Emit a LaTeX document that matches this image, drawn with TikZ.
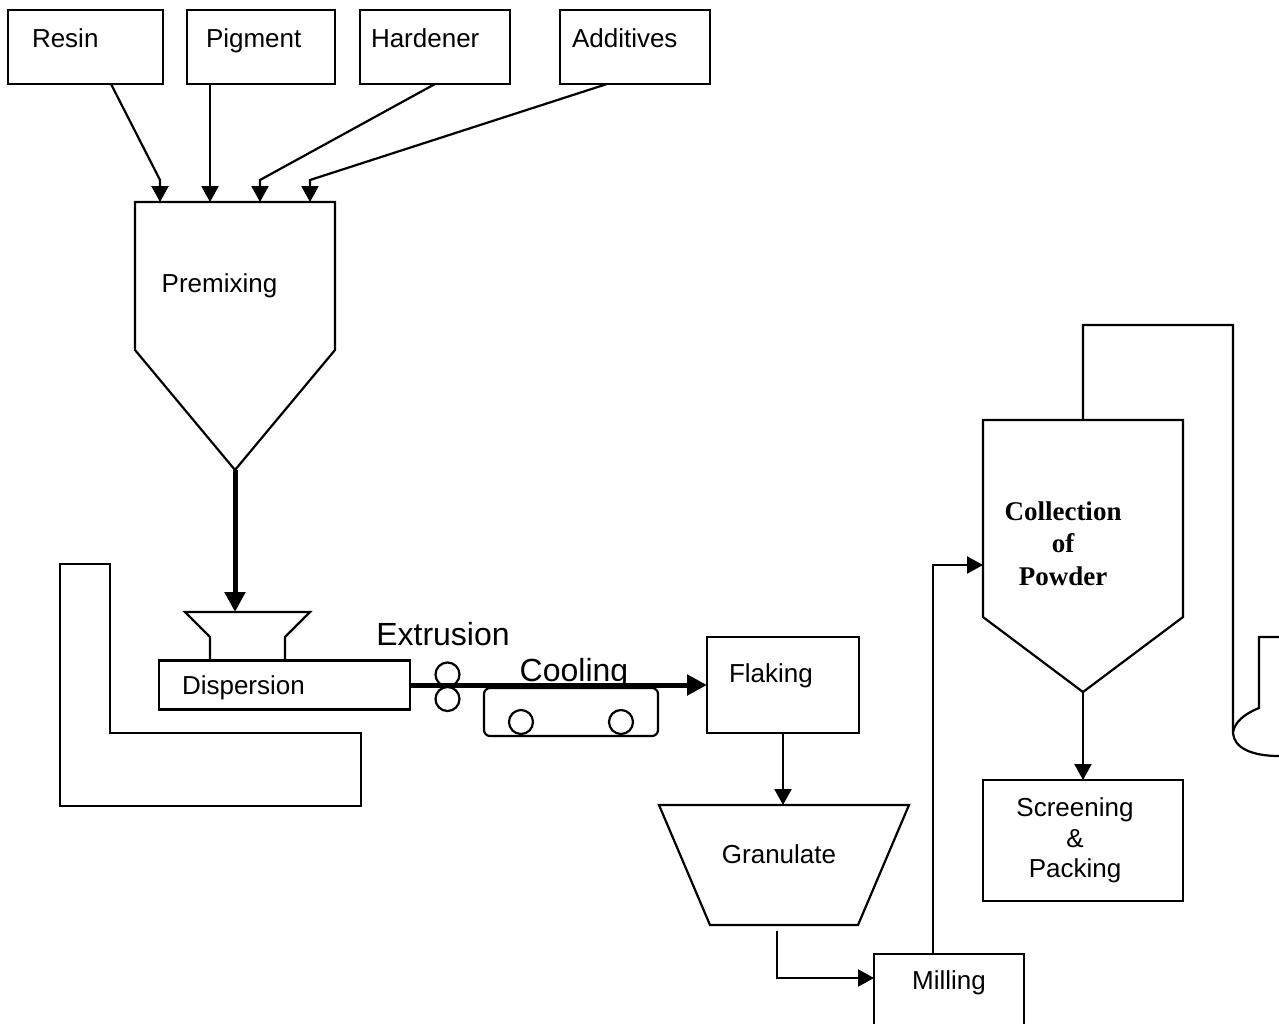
\documentclass[tikz,border=0pt]{standalone}
\usepackage{fontspec}
\setmainfont{Liberation Sans}
\newfontfamily\labelserif{Liberation Serif}
\usetikzlibrary{arrows.meta}

\tikzset{
  unit/.style={draw,line width=2.2pt,outer sep=0pt},
  feed/.style={line width=2.2pt,-{Triangle[length=16pt,width=17pt]}},
  bulk/.style={line width=5pt,-{Triangle[length=20pt,width=20pt]}},
  txt/.style={font=\fontsize{26pt}{30.5pt}\selectfont,inner sep=0pt},
  capline/.style={text height=19pt,text depth=0pt},
  big/.style={font=\fontsize{32pt}{38pt}\selectfont,inner sep=0pt,text height=23pt,text depth=0pt},
  inbox/.style={unit,txt,anchor=north west,align=left,inner ysep=18pt,text height=19pt,text depth=19pt},
}

\begin{document}
\begin{tikzpicture}[x=1pt,y=-1pt]
  \useasboundingbox (0,0) rectangle (1279,1023);
  \clip (0,0) rectangle (1279,1023);

  % raw materials
  \node[inbox,inner xsep=24pt,text width=107pt] (resin) at (8,10) {Resin};
  \node[inbox,inner xsep=19pt,text width=110pt] (pigment) at (187,10) {Pigment};
  \node[inbox,inner xsep=11pt,text width=128pt] (hardener) at (360,10) {Hardener};
  \node[inbox,inner xsep=12pt,text width=126pt] (additives) at (560,10) {Additives};

  % premixing hopper
  \draw[unit] (135,202) -- (335,202) -- (335,350) -- (235,470) -- (135,350) -- cycle;
  \node[txt,capline] (premix) at (219.5,282.5) {Premixing};
  \coordinate (in1) at (160,202);
  \coordinate (in2) at (210,202);
  \coordinate (in3) at (260,202);
  \coordinate (in4) at (310,202);
  \coordinate (pm-tip) at (235,470);

  \foreach \src/\dx/\dst in {resin/25.5/in1,pigment/-51/in2,hardener/0/in3,additives/-28/in4}
    \draw[feed] ([xshift=\dx pt]\src.south) -- ([yshift=22pt]\dst) -- (\dst);

  % extruder
  \coordinate (hop) at (235,612);
  \draw[unit] (210,660) -- (210,637) -- (185,612) -- (310,612) -- (285,637) -- (285,660);
  \draw[bulk] (pm-tip) -- (hop);
  \node[unit,txt,capline,minimum height=49pt,text width=205pt,inner xsep=23pt,align=left] (disp) at (284.5,685) {Dispersion};
  \draw[unit] (60,564) -- (110,564) -- (110,733) -- (361,733) -- (361,806) -- (60,806) -- cycle;

  \node[unit,circle,minimum size=24pt] (roll1) at (447.5,674.5) {};
  \node[unit,circle,minimum size=24pt] (roll2) at (447.5,699) {};
  \node[big] (extrusion) at (443,634) {Extrusion};

  % cooling belt
  \node[unit,rounded corners=6pt,minimum width=174pt,minimum height=48pt] (belt) at (571,712) {};
  \node[unit,circle,minimum size=24pt] (wheel1) at (521,722) {};
  \node[unit,circle,minimum size=24pt] (wheel2) at (621,722) {};
  \node[big] (cooling) at (574,670) {Cooling};

  \node[inbox,inner xsep=22pt,text width=108pt,inner ysep=26.5pt,text depth=24pt] (flake) at (707,637) {Flaking};
  \draw[bulk] (disp.east) -- (disp.east -| flake.west);

  % granulator
  \draw[unit] (659,805) -- (909,805) -- (858,925) -- (710,925) -- cycle;
  \coordinate (gran-top) at (783,805);
  \coordinate (gran-out) at (777,931);
  \node[txt,capline] (granulate) at (779,854) {Granulate};
  \draw[feed] (flake.south) -- (gran-top);

  \node[inbox,inner xsep=0pt,text width=150pt,align=center,inner ysep=16.5pt,text depth=40pt] (mill) at (874,954) {Milling};
  \draw[feed] (gran-out) |- ([yshift=-24pt]mill.north west);

  % powder collection
  \draw[unit] (983,420) -- (1183,420) -- (1183,617) -- (1083,692) -- (983,617) -- cycle;
  \coordinate (col-top) at (1083,420);
  \coordinate (col-tip) at (1083,692);
  \coordinate (col-in) at (983,565);
  \node[font=\labelserif\bfseries\fontsize{27pt}{32.5pt}\selectfont,align=center,inner sep=0pt] (collect) at (1063,543.5) {Collection\\of\\Powder};
  \draw[feed] ([xshift=-16pt]mill.north) |- (col-in);

  \node[unit,minimum width=200pt,minimum height=121pt] (screen) at (1083,840.5) {};
  \node[txt,align=center] (packing) at (1075,840.5) {Screening\\\&\\Packing};
  \draw[feed] (col-tip) -- (screen.north);

  % duct and filter
  \coordinate (duct) at (1233,325);
  \draw[unit] (col-top) |- (duct) -- (1233,733) .. controls (1234,748) and (1252,756) .. (1279,756);
  \draw[unit] (1279,637) -- (1259,637) -- (1259,708) .. controls (1244,714) and (1235,722) .. (1233,732);
\end{tikzpicture}
\end{document}
